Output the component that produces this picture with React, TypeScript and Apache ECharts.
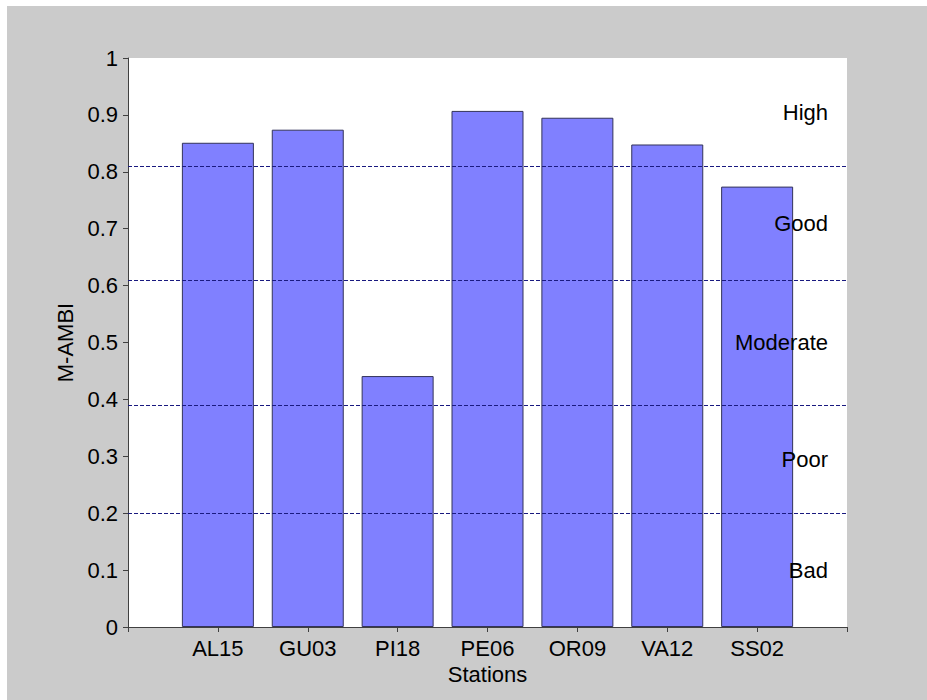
import React, { useEffect, useRef } from "react";
import * as echarts from "echarts";

const stations = ["AL15", "GU03", "PI18", "PE06", "OR09", "VA12", "SS02"];
const mambi = [0.851, 0.874, 0.441, 0.907, 0.895, 0.848, 0.774];
const thresholds = [0.2, 0.39, 0.61, 0.81];
const zoneNames = ["Bad", "Poor", "Moderate", "Good", "High"];
const yTicks = { min: 0, max: 1, interval: 0.1 };

const FONT = "'Liberation Sans', Arial, sans-serif";
const FS = 22;

export default function App() {
  const ref = useRef<HTMLDivElement>(null);

  useEffect(() => {
    if (!ref.current) return;
    const chart = echarts.init(ref.current, null, { renderer: "svg" });

    const categories = ["", ...stations, ""];
    const values: (number | string)[] = ["-", ...mambi, "-"];
    const bounds = [yTicks.min, ...thresholds, yTicks.max];
    const zones = zoneNames.map((name, i) => [
      { name, yAxis: bounds[i] },
      { yAxis: bounds[i + 1] },
    ]);

    chart.setOption({
      animation: false,
      backgroundColor: "#cbcbcb",
      textStyle: { fontFamily: FONT, color: "#000" },
      grid: {
        left: 121,
        right: 80,
        top: 52,
        bottom: 73,
        show: true,
        backgroundColor: "#ffffff",
        borderWidth: 0,
      },
      xAxis: {
        type: "category",
        data: categories,
        boundaryGap: false,
        name: "Stations",
        nameLocation: "middle",
        nameGap: 36,
        nameTextStyle: { fontFamily: FONT, fontSize: FS, color: "#000" },
        axisLine: { show: true, lineStyle: { color: "#404040", width: 1 } },
        axisTick: { show: true, length: 5, lineStyle: { color: "#404040" } },
        axisLabel: {
          fontFamily: FONT,
          fontSize: FS,
          color: "#000",
          margin: 10,
          interval: 0,
        },
        splitLine: { show: false },
      },
      yAxis: {
        type: "value",
        min: yTicks.min,
        max: yTicks.max,
        interval: yTicks.interval,
        name: "M-AMBI",
        nameLocation: "middle",
        nameRotate: 90,
        nameGap: 50,
        nameTextStyle: { fontFamily: FONT, fontSize: FS, color: "#000" },
        axisLine: { show: true, lineStyle: { color: "#404040", width: 1 } },
        axisTick: { show: true, length: 5, lineStyle: { color: "#404040" } },
        axisLabel: {
          fontFamily: FONT,
          fontSize: FS,
          color: "#000",
          margin: 10,
          formatter: (v: number) => String(Math.round(v * 10) / 10),
        },
        splitLine: { show: false },
      },
      series: [
        {
          type: "bar",
          data: values,
          barWidth: 72,
          itemStyle: {
            color: "#8080ff",
            borderColor: "#33335a",
            borderWidth: 1,
          },
          markLine: {
            silent: true,
            symbol: ["none", "none"],
            label: { show: false },
            lineStyle: { color: "#1a1a80", type: [4, 2], width: 1 },
            data: thresholds.map((t) => ({ yAxis: t })),
          },
          markArea: {
            silent: true,
            z: 6,
            itemStyle: { color: "rgba(0,0,0,0)" },
            label: {
              show: true,
              position: "insideRight",
              distance: 19,
              fontFamily: FONT,
              fontSize: FS,
              color: "#000",
            },
            data: zones,
          },
        },
      ],
    });

    return () => chart.dispose();
  }, []);

  return (
    <div
      ref={ref}
      style={{ position: "absolute", left: 7, top: 6, width: 920, height: 694 }}
    />
  );
}
